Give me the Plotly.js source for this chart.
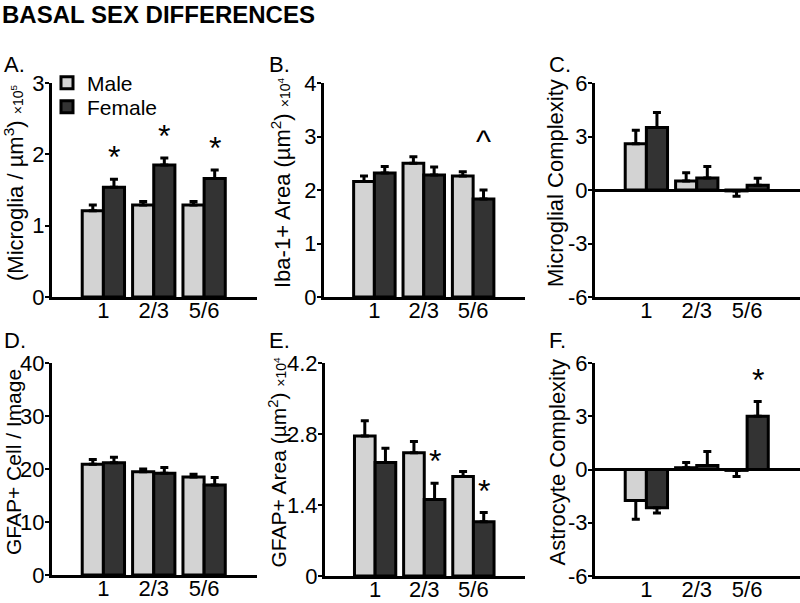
<!DOCTYPE html>
<html>
<head>
<meta charset="utf-8">
<script src="https://cdn.plot.ly/plotly-3.0.1.min.js"></script>
<style>html,body{margin:0;padding:0;background:#fff;}#chart{width:800px;height:603px;}</style>
</head>
<body>
<div id="chart"></div>
<script>
// ---- data ----
const categories = ['1', '2/3', '5/6'];

const maleA = [1.21, 1.29, 1.29];
const maleErrA = [0.08, 0.05, 0.05];
const femaleA = [1.54, 1.85, 1.66];
const femaleErrA = [0.11, 0.10, 0.12];
const sigA = ['*', '*', '*'];

const maleB = [2.16, 2.50, 2.26];
const maleErrB = [0.10, 0.12, 0.08];
const femaleB = [2.32, 2.28, 1.83];
const femaleErrB = [0.12, 0.15, 0.17];
const sigB = ['', '', '^'];

const maleC = [2.60, 0.50, -0.05];
const maleErrC = [0.75, 0.47, 0.30];
const femaleC = [3.50, 0.67, 0.26];
const femaleErrC = [0.85, 0.65, 0.40];
const sigC = ['', '', ''];

const maleD = [20.9, 19.5, 18.5];
const maleErrD = [0.9, 0.5, 0.5];
const femaleD = [21.2, 19.2, 17.0];
const femaleErrD = [1.0, 1.1, 1.4];
const sigD = ['', '', ''];

const maleE = [2.76, 2.43, 1.96];
const maleErrE = [0.30, 0.22, 0.10];
const femaleE = [2.24, 1.51, 1.07];
const femaleErrE = [0.28, 0.32, 0.18];
const sigE = ['', '*', '*'];

const maleF = [-1.75, 0.10, -0.05];
const maleErrF = [1.05, 0.30, 0.35];
const femaleF = [-2.15, 0.22, 3.00];
const femaleErrF = [0.30, 0.80, 0.83];
const sigF = ['', '', '*'];

const yTickValsA = [0, 1, 2, 3];        const yTickTextA = ['0', '1', '2', '3'];
const yTickValsB = [0, 1, 2, 3, 4];     const yTickTextB = ['0', '1', '2', '3', '4'];
const yTickValsC = [-6, -3, 0, 3, 6];   const yTickTextC = ['-6', '-3', '0', '3', '6'];
const yTickValsD = [0, 10, 20, 30, 40]; const yTickTextD = ['0', '10', '20', '30', '40'];
const yTickValsE = [0, 1.4, 2.8, 4.2];  const yTickTextE = ['0', '1.4', '2.8', '4.2'];
const yTickValsF = [-6, -3, 0, 3, 6];   const yTickTextF = ['-6', '-3', '0', '3', '6'];

const titleText = 'BASAL SEX DIFFERENCES';
const seriesNames = ['Male', 'Female'];

// ---- styling ----
const FONT = 'Liberation Sans, Arial, Helvetica, sans-serif';
const MALE_COLOR = '#d3d3d3';
const FEMALE_COLOR = '#333333';
const BARGAP = 0.16;
const SMALL = '<span style="font-size:14px">';

const panels = [
  {id: '', label: 'A.', male: maleA, maleErr: maleErrA, female: femaleA, femaleErr: femaleErrA, sig: sigA,
   yrange: [0, 3], tv: yTickValsA, tt: yTickTextA,
   ytitle: '(Microglia / µm<sup>3</sup>) ' + SMALL + '×10<sup>5</sup></span>',
   xdom: [52, 257], ydom: [83, 297], labelPos: [2, 65], titleX: 14, titleSize: 22},
  {id: '2', label: 'B.', male: maleB, maleErr: maleErrB, female: femaleB, femaleErr: femaleErrB, sig: sigB,
   yrange: [0, 4], tv: yTickValsB, tt: yTickTextB,
   ytitle: 'Iba-1+ Area (µm<sup>2</sup>) ' + SMALL + '×10<sup>4</sup></span>',
   xdom: [324, 525], ydom: [83, 297], labelPos: [267, 65], titleX: 281, titleSize: 22},
  {id: '3', label: 'C.', male: maleC, maleErr: maleErrC, female: femaleC, femaleErr: femaleErrC, sig: sigC,
   yrange: [-6, 6], tv: yTickValsC, tt: yTickTextC,
   ytitle: 'Microglial Complexity',
   xdom: [595, 800], ydom: [83, 297], labelPos: [547, 65], titleX: 555, titleSize: 22},
  {id: '4', label: 'D.', male: maleD, maleErr: maleErrD, female: femaleD, femaleErr: femaleErrD, sig: sigD,
   yrange: [0, 40], tv: yTickValsD, tt: yTickTextD,
   ytitle: 'GFAP+ Cell / Image',
   xdom: [52, 257], ydom: [363, 575], labelPos: [2, 340], titleX: 13, titleSize: 21},
  {id: '5', label: 'E.', male: maleE, maleErr: maleErrE, female: femaleE, femaleErr: femaleErrE, sig: sigE,
   yrange: [0, 4.2], tv: yTickValsE, tt: yTickTextE,
   ytitle: 'GFAP+ Area (µm<sup>2</sup>) ' + SMALL + '×10<sup>4</sup></span>',
   xdom: [325, 525], ydom: [363, 576], labelPos: [267, 340], titleX: 277, titleSize: 21},
  {id: '6', label: 'F.', male: maleF, maleErr: maleErrF, female: femaleF, femaleErr: femaleErrF, sig: sigF,
   yrange: [-6, 6], tv: yTickValsF, tt: yTickTextF,
   ytitle: 'Astrocyte Complexity',
   xdom: [595, 800], ydom: [363, 576], labelPos: [547, 340], titleX: 557, titleSize: 22}
];

const W = 800, H = 603;
function errBar(vals, errs) {
  return {
    type: 'data', symmetric: false, visible: true,
    array: vals.map((v, i) => v >= 0 ? errs[i] : 0),
    arrayminus: vals.map((v, i) => v < 0 ? errs[i] : 0),
    color: '#000', thickness: 3, width: 4
  };
}

const traces = [];
const legendStyle = {xanchor: 'left', yanchor: 'middle', bgcolor: 'rgba(0,0,0,0)',
                     font: {size: 21, family: FONT, color: '#000'}, itemwidth: 30};
const layout = {
  width: W, height: H,
  margin: {l: 0, r: 0, t: 0, b: 0},
  paper_bgcolor: '#fff', plot_bgcolor: 'rgba(0,0,0,0)',
  font: {family: FONT, size: 22, color: '#000'},
  barmode: 'group', bargap: BARGAP, bargroupgap: 0,
  showlegend: true,
  legend: Object.assign({x: 47 / W, y: 1 - 83 / H}, legendStyle),
  legend2: Object.assign({x: 47 / W, y: 1 - 107 / H}, legendStyle),
  title: {text: '<b>' + titleText + '</b>', x: 2 / W, xanchor: 'left', y: 1 - 15 / H, yanchor: 'middle',
          font: {size: 24, family: FONT, color: '#000'}},
  annotations: []
};

panels.forEach((p, k) => {
  const xa = 'x' + p.id, ya = 'y' + p.id;
  traces.push({
    type: 'bar', name: seriesNames[0], x: categories, y: p.male, xaxis: xa, yaxis: ya,
    marker: {color: MALE_COLOR, line: {color: '#000', width: 3}},
    error_y: errBar(p.male, p.maleErr), showlegend: k === 0, legend: 'legend', hoverinfo: 'y'
  });
  traces.push({
    type: 'bar', name: seriesNames[1], x: categories, y: p.female, xaxis: xa, yaxis: ya,
    marker: {color: FEMALE_COLOR, line: {color: '#000', width: 3}},
    error_y: errBar(p.female, p.femaleErr), showlegend: k === 0, legend: 'legend2', hoverinfo: 'y'
  });
  layout['xaxis' + p.id] = {
    domain: [p.xdom[0] / W, p.xdom[1] / W], anchor: ya,
    type: 'category', range: [-1.02, 3.05],
    showline: true, linewidth: 3, linecolor: '#000', mirror: false,
    ticks: '', showgrid: false, zeroline: false, ticklabelstandoff: -8,
    tickfont: {size: 22}, fixedrange: true
  };
  layout['yaxis' + p.id] = {
    domain: [1 - p.ydom[1] / H, 1 - p.ydom[0] / H], anchor: xa,
    range: p.yrange, tickvals: p.tv, ticktext: p.tt,
    showline: true, linewidth: 3, linecolor: '#000',
    ticks: 'outside', ticklen: 4, tickwidth: 2, tickcolor: '#000', ticklabelstandoff: -4,
    showgrid: false, zeroline: p.yrange[0] < 0, zerolinewidth: 3, zerolinecolor: '#000',
    tickfont: {size: 22}, fixedrange: true
  };
  // y-axis title
  layout.annotations.push({
    text: p.ytitle, xref: 'paper', yref: 'paper', showarrow: false, textangle: -90,
    x: p.titleX / W, y: 1 - ((p.ydom[0] + p.ydom[1]) / 2 - 7) / H,
    xanchor: 'center', yanchor: 'middle', font: {size: p.titleSize}
  });
  // panel letter
  layout.annotations.push({
    text: p.label, xref: 'paper', yref: 'paper', showarrow: false,
    x: p.labelPos[0] / W, y: 1 - p.labelPos[1] / H, xanchor: 'left', yanchor: 'middle',
    font: {size: 22}
  });
  // significance markers over female bars
  const off = (1 - BARGAP) / 4;
  p.sig.forEach((s, i) => {
    if (!s) return;
    layout.annotations.push({
      text: s, xref: xa, yref: ya, showarrow: false,
      x: i + off, y: p.female[i] + p.femaleErr[i], xanchor: 'center', yanchor: 'bottom',
      yshift: s === '^' ? 29 : 2, font: {size: 32}
    });
  });
});

Plotly.newPlot('chart', traces, layout, {staticPlot: true});
</script>
</body>
</html>
